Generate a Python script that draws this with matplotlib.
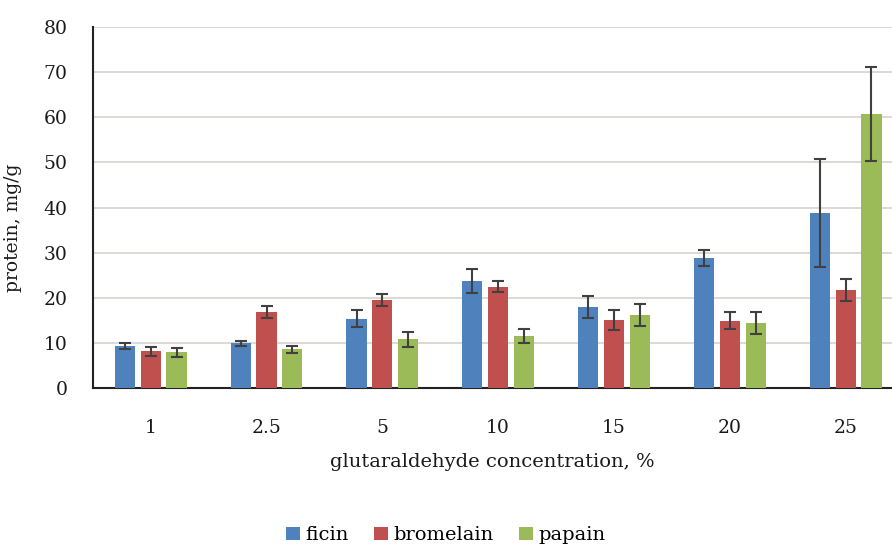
import numpy as np
import matplotlib.pyplot as plt

plt.rcParams['font.family'] = ['DejaVu Serif']

# dados
concentracoes = ['1', '2.5', '5', '10', '15', '20', '25']
ficin = [9.4, 9.9, 15.4, 23.7, 18.0, 28.8, 38.8]
ficin_err = [0.7, 0.5, 1.8, 2.6, 2.4, 1.8, 12.0]
bromelain = [8.2, 16.9, 19.5, 22.5, 15.1, 14.9, 21.7]
bromelain_err = [1.0, 1.3, 1.3, 1.3, 2.3, 1.9, 2.5]
papain = [7.9, 8.6, 10.8, 11.5, 16.2, 14.4, 60.7]
papain_err = [1.0, 0.8, 1.6, 1.6, 2.5, 2.5, 10.4]

fig = plt.figure(figsize=(8.92, 5.49), dpi=100)
ax = fig.add_axes([0.104, 0.293, 0.896, 0.658])

x = np.arange(len(concentracoes))
w = 0.173
d = 0.223
err_kw = dict(ecolor='#404040', elinewidth=1.5, capsize=4.5, capthick=1.5)

ax.bar(x - d, ficin, w, yerr=ficin_err, color='#4F81BD', label='ficin', error_kw=err_kw, zorder=3)
ax.bar(x, bromelain, w, yerr=bromelain_err, color='#C0504D', label='bromelain', error_kw=err_kw, zorder=3)
ax.bar(x + d, papain, w, yerr=papain_err, color='#9BBB59', label='papain', error_kw=err_kw, zorder=3)

ax.set_xlim(-0.5, 6.4)
ax.set_ylim(0, 80)
ax.set_yticks(range(0, 81, 10))
ax.set_xticks(x)
ax.set_xticklabels(concentracoes)
ax.tick_params(axis='both', length=0, labelsize=13.5, colors='#1a1a1a')
ax.tick_params(axis='x', pad=22)
ax.tick_params(axis='y', pad=18)

ax.grid(axis='y', color='#DAD5D2', linewidth=1.3, zorder=0)
for s in ['top', 'right']:
    ax.spines[s].set_visible(False)
ax.spines['left'].set_linewidth(1.5)
ax.spines['bottom'].set_linewidth(1.5)
ax.spines['left'].set_color('#222222')
ax.spines['bottom'].set_color('#222222')

ax.set_xlabel('glutaraldehyde concentration, %', fontsize=14, labelpad=12, color='#1a1a1a')
ax.set_ylabel('protein, mg/g', fontsize=13.5, color='#1a1a1a')
ax.yaxis.set_label_coords(-0.089, 0.443)

fig.legend(loc='center', bbox_to_anchor=(0.5, 0.025), ncol=3, frameon=False,
           fontsize=14, handlelength=0.7, handleheight=0.7, handletextpad=0.3,
           columnspacing=1.3)

fig.savefig('out.png', dpi=100)
